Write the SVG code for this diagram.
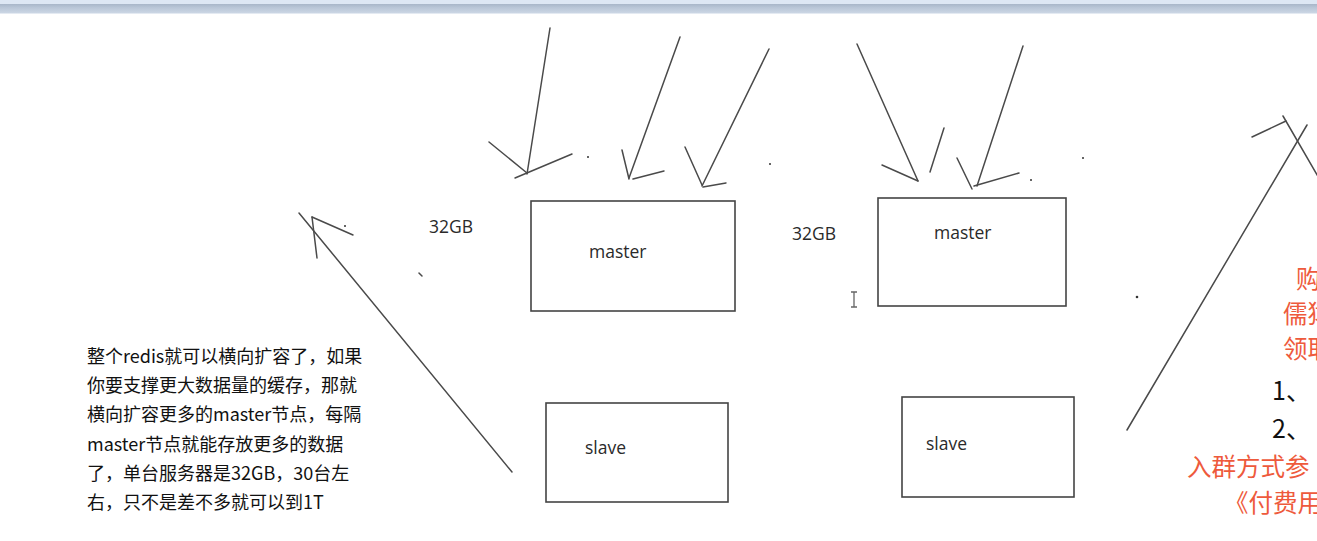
<svg xmlns="http://www.w3.org/2000/svg" width="1317" height="541" viewBox="0 0 1317 541">
<defs>
<linearGradient id="bar" x1="0" y1="0" x2="0" y2="1">
<stop offset="0" stop-color="#a8b6c9"/>
<stop offset="0.4" stop-color="#b9c6d7"/>
<stop offset="1" stop-color="#cbd6e4"/>
</linearGradient>
<style>
.box{fill:#fff;stroke:#444;stroke-width:1.6}
.ln{stroke:#4a4a4a;stroke-width:1.5;fill:none;stroke-linecap:round}
.dot{fill:#333}
.lbl{font-family:"Open Sans","Noto Sans",sans-serif;font-size:17.5px;fill:#2a2a2a}
.note{font-family:"Noto Sans CJK SC","Noto Sans",sans-serif;font-size:18px;fill:#111}
.red{font-family:"Noto Sans CJK SC",sans-serif;font-size:24.5px;fill:#ee5a3c}
.blk{font-family:"Noto Sans CJK SC",sans-serif;font-size:25px;fill:#111}
</style>
</defs>
<rect x="0" y="0" width="1317" height="541" fill="#fff"/>
<rect x="0" y="0" width="1317" height="4" fill="#dde7f4"/>
<rect x="0" y="4" width="1317" height="9" fill="url(#bar)"/>
<rect x="0" y="13" width="1317" height="1" fill="#e4eaf2"/>

<g id="connectors">
<line class="ln" x1="550" y1="28" x2="527" y2="174"/>
<line class="ln" x1="489" y1="142" x2="527" y2="173"/>
<line class="ln" x1="515" y1="178" x2="572" y2="154"/>
<line class="ln" x1="680" y1="37" x2="629" y2="178"/>
<line class="ln" x1="622" y1="150" x2="629" y2="179"/>
<line class="ln" x1="633" y1="179" x2="664" y2="171"/>
<line class="ln" x1="769" y1="49" x2="702" y2="186"/>
<line class="ln" x1="685" y1="147" x2="702" y2="185"/>
<line class="ln" x1="703" y1="187" x2="726" y2="183"/>
<line class="ln" x1="299" y1="213" x2="512" y2="472"/>
<line class="ln" x1="312" y1="217" x2="353" y2="235"/>
<line class="ln" x1="312" y1="217" x2="317" y2="258"/>
<line class="ln" x1="857" y1="44" x2="918" y2="181"/>
<line class="ln" x1="882" y1="165" x2="918" y2="181"/>
<line class="ln" x1="930" y1="172" x2="944" y2="128"/>
<line class="ln" x1="1023" y1="46" x2="977" y2="186"/>
<line class="ln" x1="957" y1="158" x2="972" y2="189"/>
<line class="ln" x1="974" y1="186" x2="1019" y2="173"/>
<line class="ln" x1="1127" y1="430" x2="1307" y2="125"/>
<line class="ln" x1="1283" y1="116" x2="1320" y2="180"/>
<line class="ln" x1="1252" y1="137" x2="1286" y2="121"/>
</g>

<g id="dots">
<circle class="dot" cx="588" cy="157" r="1"/>
<circle class="dot" cx="770" cy="164" r="1"/>
<circle class="dot" cx="345" cy="226" r="1"/>
<line class="ln" x1="419" y1="273" x2="422" y2="276" stroke-width="1.2"/>
<circle class="dot" cx="1031" cy="180" r="1"/>
<circle class="dot" cx="1083" cy="158" r="1"/>
<circle class="dot" cx="1137" cy="297" r="1.3"/>
<path d="M851 292h6M854 292v15M851 307h6" stroke="#666" stroke-width="1.3" fill="none"/>
</g>

<g id="master1">
<rect class="box" x="531" y="201" width="204" height="110"/>
<text class="lbl" x="589" y="258">master</text>
</g>
<g id="master2">
<rect class="box" x="878" y="198" width="188" height="108"/>
<text class="lbl" x="934" y="239">master</text>
</g>
<g id="slave1">
<rect class="box" x="546" y="403" width="182" height="99"/>
<text class="lbl" x="585" y="454">slave</text>
</g>
<g id="slave2">
<rect class="box" x="902" y="397" width="172" height="100"/>
<text class="lbl" x="926" y="450">slave</text>
</g>

<g id="labels">
<text class="lbl" x="429" y="233">32GB</text>
<text class="lbl" x="792" y="240">32GB</text>
</g>

<g id="note">
<text class="note" x="87" y="363">整个redis就可以横向扩容了，如果</text>
<text class="note" x="87" y="392">你要支撑更大数据量的缓存，那就</text>
<text class="note" x="87" y="421">横向扩容更多的master节点，每隔</text>
<text class="note" x="87" y="451">master节点就能存放更多的数据</text>
<text class="note" x="87" y="480">了，单台服务器是32GB，30台左</text>
<text class="note" x="87" y="509">右，只不是差不多就可以到1T</text>
</g>

<g id="side">
<text class="red" x="1296" y="288">购</text>
<text class="red" x="1283" y="323">儒猿</text>
<text class="red" x="1283" y="358">领取</text>
<text class="blk" x="1272" y="400">1、</text>
<text class="blk" x="1272" y="438">2、</text>
<text class="red" x="1187" y="476">入群方式参</text>
<text class="red" x="1224" y="512">《付费用</text>
</g>
</svg>
